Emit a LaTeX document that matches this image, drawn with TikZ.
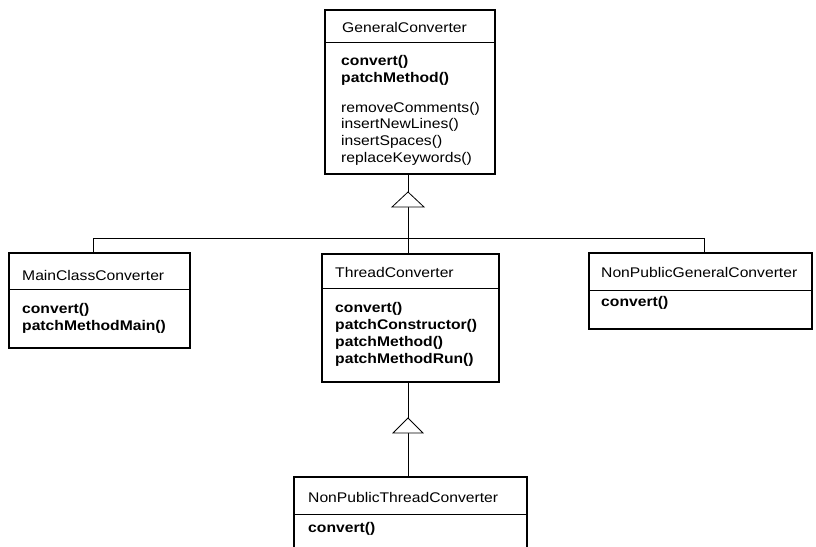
\documentclass[tikz,border=0pt]{standalone}
\usepackage{fontspec}
\setmainfont{Liberation Sans}[FakeStretch=1.12]
\begin{document}
\begin{tikzpicture}[x=1pt,y=-1pt,
  cls/.style={draw, line width=1.8pt, anchor=north west, inner sep=0pt, outer sep=0pt},
  sep/.style={line width=0.8pt},
  link/.style={line width=0.8pt},
  txt/.style={anchor=base west, inner sep=0pt, font=\fontsize{14}{16}\selectfont},
  op/.style={txt, font=\fontsize{14}{16}\selectfont\bfseries},
  gen/.style={line width=0.8pt, fill=white}]
\useasboundingbox (0,0) rectangle (816,546);

% class boxes
\node[cls, minimum width=170pt, minimum height=164pt] (gc)  at (325,10)  {};
\node[cls, minimum width=181pt, minimum height=95pt]  (mc)  at (9,253)   {};
\node[cls, minimum width=177pt, minimum height=128pt] (tc)  at (322,254) {};
\node[cls, minimum width=223pt, minimum height=76pt]  (npg) at (589,253) {};
\node[cls, minimum width=233pt, minimum height=90pt]  (npt) at (294,477) {};

% header separators
\draw[sep] (gc.west  |- 0,42)  -- (gc.east  |- 0,42);
\draw[sep] (mc.west  |- 0,289) -- (mc.east  |- 0,289);
\draw[sep] (tc.west  |- 0,288) -- (tc.east  |- 0,288);
\draw[sep] (npg.west |- 0,290) -- (npg.east |- 0,290);
\draw[sep] (npt.west |- 0,514) -- (npt.east |- 0,514);

% GeneralConverter
\node[txt] (gcn) at (342,32) {GeneralConverter};
\node[op]  (gc1) at (341,65) {convert()};
\node[op]  (gc2) at (341,82) {patchMethod()};
\node[txt] (gc3) at (341,112) {removeComments()};
\node[txt] (gc4) at (341,128) {insertNewLines()};
\node[txt] (gc5) at (341,145) {insertSpaces()};
\node[txt] (gc6) at (341,162) {replaceKeywords()};

% MainClassConverter
\node[txt] (mcn) at (22,280) {MainClassConverter};
\node[op]  (mc1) at (22,313) {convert()};
\node[op]  (mc2) at (22,330) {patchMethodMain()};

% ThreadConverter
\node[txt] (tcn) at (335,277) {ThreadConverter};
\node[op]  (tc1) at (335,312) {convert()};
\node[op]  (tc2) at (335,329) {patchConstructor()};
\node[op]  (tc3) at (335,346) {patchMethod()};
\node[op]  (tc4) at (335,363) {patchMethodRun()};

% NonPublicGeneralConverter
\node[txt] (npgn) at (601,277) {NonPublicGeneralConverter};
\node[op]  (npg1) at (601,306) {convert()};

% NonPublicThreadConverter
\node[txt] (nptn) at (308,502) {NonPublicThreadConverter};
\node[op]  (npt1) at (308,532) {convert()};

% generalization: GeneralConverter <- subclasses
\coordinate (a1) at (408,192);
\coordinate (b1) at (408,207);
\coordinate (bus) at (408,238);
\coordinate (mcj) at (93,253);
\coordinate (npgj) at (704,253);
\draw[link] (gc.south -| a1) -- (a1);
\draw[link] (b1) -- (bus);
\draw[link] (mcj) |- (bus);
\draw[link] (npgj) |- (bus);
\draw[link] (bus) -- (tc.north -| bus);
\draw[gen] (a1) -- ++(-16,15) -- ++(32,0) -- cycle;

% generalization: ThreadConverter <- NonPublicThreadConverter
\coordinate (a2) at (408,418);
\coordinate (b2) at (408,433);
\draw[link] (tc.south -| a2) -- (a2);
\draw[link] (b2) -- (npt.north -| b2);
\draw[gen] (a2) -- ++(-15,15) -- ++(30,0) -- cycle;
\end{tikzpicture}
\end{document}
